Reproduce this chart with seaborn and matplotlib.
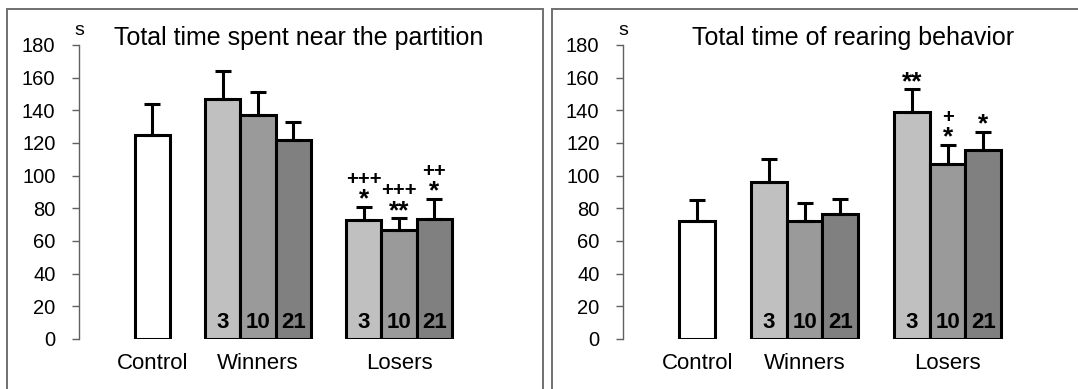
import matplotlib
matplotlib.use('Agg')
import matplotlib.pyplot as plt
import numpy as np
import pandas as pd
import seaborn as sns
from matplotlib.patches import Rectangle

# slots along the x axis; the "gap" slots stay empty
ORDER = ["Control", "gap1", "W3", "W10", "W21", "gap2", "L3", "L10", "L21"]
BARS = ["Control", "W3", "W10", "W21", "L3", "L10", "L21"]
BAR_NUMBERS = ["", "3", "10", "21", "3", "10", "21"]
GROUP_LABELS = ["Control", "Winners", "Losers"]
GROUP_CENTERS = ["Control", "W10", "L10"]

# panel 1: total time spent near the partition (s)
partition_mean = [125, 147, 137, 122, 73, 67, 73.5]
partition_sem = [19, 17, 14, 11, 8, 7, 12.5]
partition_marks = {"L3": ["*", "+++"], "L10": ["**", "+++"], "L21": ["*", "++"]}

# panel 2: total time of rearing behavior (s)
rearing_mean = [72, 96, 72, 76.5, 139, 107, 116]
rearing_sem = [13, 14, 11, 9.5, 14, 12, 11]
rearing_marks = {"L3": ["**"], "L10": ["*", "+"], "L21": ["*"]}

COLORS = {"Control": "#ffffff", "W3": "#c0c0c0", "W10": "#9a9a9a", "W21": "#808080",
          "L3": "#c0c0c0", "L10": "#9a9a9a", "L21": "#808080"}

sns.set_style("white")
plt.rcParams['font.family'] = ['Liberation Sans', 'DejaVu Sans']
plt.rcParams['text.color'] = 'black'
plt.rcParams['xtick.labelcolor'] = 'black'
plt.rcParams['ytick.labelcolor'] = 'black'

fig = plt.figure(figsize=(10.78, 3.89), dpi=100)

# grey panel frames
for x0, w in [(7, 536), (552, 540)]:
    fig.patches.append(Rectangle((x0 / 1078, -0.05), w / 1078, 1.05 - 9 / 389,
                                 transform=fig.transFigure, fill=False,
                                 edgecolor="#707070", linewidth=1.4, zorder=0))


def draw_panel(ax, means, sems, marks, title, title_x):
    df = pd.DataFrame({"group": BARS, "value": means, "sem": sems})
    sns.barplot(data=df, x="group", y="value", order=ORDER, hue="group",
                palette=COLORS, legend=False, width=1.0, errorbar=None,
                edgecolor="black", linewidth=2.2, ax=ax)
    pos = [ORDER.index(b) for b in BARS]
    ax.errorbar(pos, means, yerr=[np.zeros(len(sems)), sems], fmt="none",
                ecolor="black", elinewidth=2.2, capsize=5.5, capthick=2.2, zorder=1)
    for p, num in zip(pos, BAR_NUMBERS):
        if num:
            ax.annotate(num, xy=(p, 0), xytext=(0, 6), textcoords="offset pixels",
                        ha="center", va="bottom", fontsize=16, fontweight="bold",
                        color="black")
    for key, labels in marks.items():
        i = BARS.index(key)
        top = means[i] + sems[i]
        for k, lab in enumerate(labels):
            if "*" in lab:
                ax.annotate(lab, xy=(ORDER.index(key), top), xytext=(0, -5),
                            textcoords="offset pixels", ha="center", va="bottom",
                            fontsize=19, fontweight="bold", color="black")
            else:
                ax.annotate(lab, xy=(ORDER.index(key), top), xytext=(0, 18),
                            textcoords="offset pixels", ha="center", va="bottom",
                            fontsize=14.5, fontweight="bold", color="black")
    ax.set_xlim(-2.08, 9.0)
    ax.set_ylim(0, 180)
    ax.set_yticks(range(0, 181, 20))
    ax.set_xticks([ORDER.index(g) for g in GROUP_CENTERS])
    ax.set_xticklabels(GROUP_LABELS)
    ax.set_xlabel("")
    ax.set_ylabel("")
    ax.tick_params(axis="x", length=0, pad=10, labelsize=16, labelcolor="black")
    ax.tick_params(axis="y", left=True, length=5, width=1, color="#606060",
                   pad=12, labelsize=14.5, labelcolor="black")
    for side in ["top", "right", "bottom"]:
        ax.spines[side].set_visible(False)
    ax.spines["left"].set_color("#606060")
    ax.spines["left"].set_linewidth(1)
    ax.text(0, 1.02, "s", transform=ax.transAxes, ha="center", va="bottom",
            fontsize=14, color="black")
    fig.text(title_x / 1078, 1 - 38 / 389, title, ha="center", va="center",
             fontsize=18, color="black")


bottom = (389 - 339) / 389
height = 294 / 389
ax1 = fig.add_axes([79 / 1078, bottom, 11.08 * 35.25 / 1078, height])
ax2 = fig.add_axes([623 / 1078, bottom, 11.08 * 35.75 / 1078, height])

draw_panel(ax1, partition_mean, partition_sem, partition_marks,
           "Total time spent near the partition", 299)
draw_panel(ax2, rearing_mean, rearing_sem, rearing_marks,
           "Total time of rearing behavior", 853)

fig.savefig("out.png", dpi=100)
